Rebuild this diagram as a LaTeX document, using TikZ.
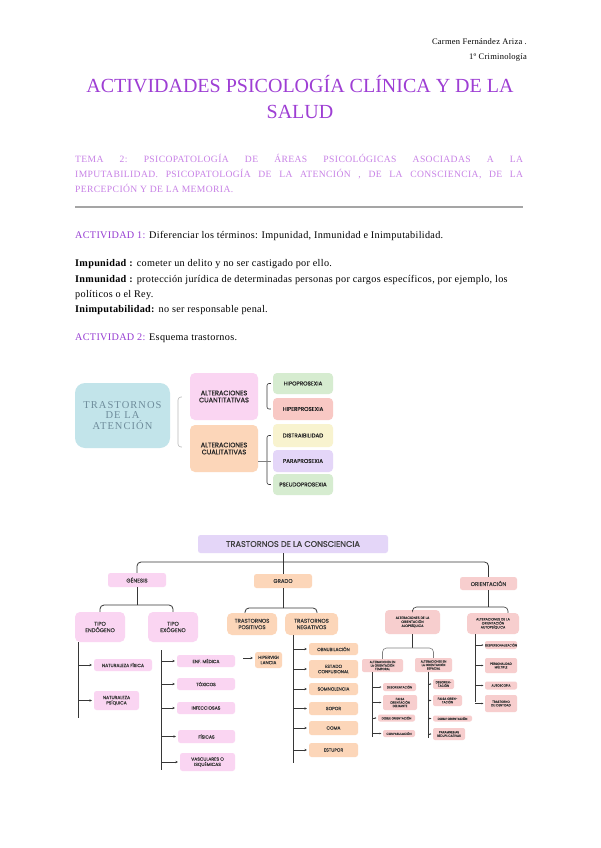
\documentclass[tikz,border=0pt]{standalone}
\usepackage{fontspec}
\setmainfont{Liberation Serif}
\newfontfamily\popf{Poppins}
\newfontfamily\popm[FakeBold=0.7]{Poppins}
\newfontfamily\lspacef[LetterSpace=10]{Liberation Serif}
\newfontfamily\temaf[LetterSpace=4]{Liberation Serif}
\newfontfamily\bodyf[LetterSpace=3]{Liberation Serif}
\usetikzlibrary{arrows.meta}
\definecolor{ttl}{RGB}{158,62,212}
\definecolor{tema}{RGB}{200,130,230}
\definecolor{act}{RGB}{150,60,210}
\definecolor{rulec}{RGB}{165,165,165}
\definecolor{blueb}{RGB}{194,228,234}
\definecolor{bluet}{RGB}{110,140,155}
\definecolor{pinkb}{RGB}{250,213,242}
\definecolor{orab}{RGB}{252,214,185}
\definecolor{greenb}{RGB}{214,236,208}
\definecolor{redb}{RGB}{248,200,196}
\definecolor{yelb}{RGB}{248,243,207}
\definecolor{lavb}{RGB}{228,214,248}
\definecolor{roseb}{RGB}{247,206,206}
\definecolor{lnc}{RGB}{55,55,55}
\definecolor{txg}{RGB}{60,60,60}
\tikzset{
  bx/.style={rounded corners=2.5pt, inner sep=0pt, align=center, text=txg},
  ln/.style={draw=lnc, line width=0.8pt},
  lnt/.style={draw=lnc, line width=0.6pt},
  ar/.style={ln, -{Stealth[length=2.4pt,width=2.4pt]}, shorten >=2pt},
  ars/.style={lnt, -{Stealth[length=1.6pt,width=1.6pt]}, shorten >=1.5pt},
  bodytxt/.style={anchor=base west, inner sep=0pt, font=\bodyf\fontsize{10.2}{12}\selectfont},
}
\newcommand{\bxn}[7]{\node[bx,fill=#2,minimum width=#5pt,minimum height=#6pt] (#1) at (#3,#4) {#7};}
\begin{document}
\begin{tikzpicture}[x=1pt,y=-1pt]
\useasboundingbox[fill=white] (0,0) rectangle (600,848);

% header
\node[anchor=base east, inner sep=0pt, font=\bodyf\fontsize{8.5}{10}\selectfont] (auth) at (527,45) {Carmen Fernández Ariza .};
\node[anchor=base east, inner sep=0pt, font=\bodyf\fontsize{8.5}{10}\selectfont] (curso) at (527,60) {1º Criminología};

% title
\node[anchor=base, inner sep=0pt, text=ttl, font=\fontsize{20}{24}\selectfont] (t1) at (300,93) {ACTIVIDADES PSICOLOGÍA CLÍNICA Y DE LA};
\node[anchor=base, inner sep=0pt, text=ttl, font=\fontsize{20}{24}\selectfont] (t2) at (300,119) {SALUD};

% tema
\node[anchor=north west, text width=448pt, align=justify, inner sep=0pt, text=tema, font=\temaf\fontsize{9.6}{15}\selectfont] (tema) at (75,154)
 {TEMA 2:\ PSICOPATOLOGÍA DE ÁREAS PSICOLÓGICAS ASOCIADAS A LA\linebreak IMPUTABILIDAD. PSICOPATOLOGÍA DE LA ATENCIÓN , DE LA CONSCIENCIA, DE LA\linebreak PERCEPCIÓN Y DE LA MEMORIA.};
\draw[rulec, line width=1.6pt] (75,207) -- (523,207);

% actividad 1
\node[bodytxt] (a1) at (75,238) {\textcolor{act}{ACTIVIDAD 1:} Diferenciar los términos: Impunidad, Inmunidad e Inimputabilidad.};
\node[bodytxt] (d1) at (75,266) {\textbf{Impunidad :} cometer un delito y no ser castigado por ello.};
\node[bodytxt] (d2) at (75,282) {\textbf{Inmunidad :} protección jurídica de determinadas personas por cargos específicos, por ejemplo, los};
\node[bodytxt] (d2b) at (75,297) {políticos o el Rey.};
\node[bodytxt] (d3) at (75,312) {\textbf{Inimputabilidad:} no ser responsable penal.};
\node[bodytxt] (a2) at (75,340) {\textcolor{act}{ACTIVIDAD 2:} Esquema trastornos.};

% ===== atención =====
\node[bx, fill=blueb, rounded corners=10pt, minimum width=95pt, minimum height=65pt, text=bluet, font=\lspacef\fontsize{10.5}{10.8}\selectfont] (att) at (122.5,415.5) {TRASTORNOS\\DE LA\\ATENCIÓN};
\begin{scope}[bx/.append style={font=\popm\fontsize{6.6}{7}\selectfont, rounded corners=5pt, text=black!85}]
\bxn{cuan}{pinkb}{224}{396.5}{68}{47}{ALTERACIONES\\CUANTITATIVAS}
\bxn{cual}{orab}{224}{448.5}{68}{47}{ALTERACIONES\\CUALITATIVAS}
\end{scope}
\begin{scope}[bx/.append style={font=\popm\fontsize{5.6}{6}\selectfont, rounded corners=4pt, text=black!85}]
\bxn{hipo}{greenb}{303}{383.5}{60}{21}{HIPOPROSEXIA}
\bxn{hiper}{redb}{303}{409}{60}{22}{HIPERPROSEXIA}
\bxn{dist}{yelb}{303}{435.5}{60}{23}{DISTRAIBILIDAD}
\bxn{para}{lavb}{303}{461}{60}{22}{PARAPROSEXIA}
\bxn{pseudo}{greenb}{303}{484.5}{60}{21}{PSEUDOPROSEXIA}
\end{scope}
\draw[gray!55, line width=0.6pt, rounded corners=3pt] ([xshift=-8pt]cuan.west |- 0,397) -| (178,422) |- ([xshift=-8pt]cual.west |- 0,447);
\draw[lnt, rounded corners=2pt] ([xshift=-2pt]hipo.west) -| (267,396) |- ([xshift=-2pt]hiper.west);
\draw[lnt, rounded corners=2pt] ([xshift=-2pt]dist.west) -| (267,460) |- ([xshift=-2pt]pseudo.west);
\draw[lnt, gray] (cual.east |- para.west) -- ([xshift=-2pt]para.west);

% ===== consciencia =====
\node[bx, fill=lavb, minimum width=190pt, minimum height=18pt, font=\popm\fontsize{8.2}{9}\selectfont, text=black!75] (cons) at (293,544) {TRASTORNOS DE LA CONSCIENCIA};
\begin{scope}[bx/.append style={font=\popm\fontsize{5.4}{6}\selectfont}]
\bxn{gen}{pinkb}{137}{580}{58}{14}{GÉNESIS}
\bxn{grado}{orab}{283}{581}{58}{14}{GRADO}
\bxn{orient}{roseb}{488.5}{583.5}{57}{13}{ORIENTACIÓN}
\end{scope}
\coordinate (hj) at (283,562);
\draw[ln] (cons.south -| grado.north) -- (grado.north);
\draw[ln, rounded corners=4pt] (gen.north) |- (hj);
\draw[ln, rounded corners=4pt] (orient.north) |- (hj);

\begin{scope}[bx/.append style={font=\popm\fontsize{5.4}{6.4}\selectfont, rounded corners=5pt}]
\bxn{endo}{pinkb}{100}{627}{50}{30}{TIPO\\ENDÓGENO}
\bxn{exo}{pinkb}{173}{627}{50}{30}{TIPO\\EXÓGENO}
\bxn{pos}{orab}{252}{624}{50}{22}{TRASTORNOS\\POSITIVOS}
\bxn{neg}{orab}{311.5}{624}{53}{22}{TRASTORNOS\\NEGATIVOS}
\end{scope}
\draw[ln] (gen.south) -- (137,605) coordinate (gj);
\draw[ln, rounded corners=4pt] (gj) -| (endo.north);
\draw[ln, rounded corners=4pt] (gj) -| (exo.north);
\draw[ln] (grado.south) -- (283,608) coordinate (gdj);
\draw[ln, rounded corners=4pt] (gdj) -| ([xshift=-7pt]pos.north);
\draw[ln, rounded corners=4pt] (gdj) -| ([xshift=5.5pt]neg.north);

\begin{scope}[bx/.append style={font=\popm\fontsize{4.5}{5.3}\selectfont}]
\bxn{fis}{pinkb}{123}{665}{58}{12}{NATURALEZA FÍSICA}
\bxn{psi}{pinkb}{116.5}{700.5}{45}{19}{NATURALEZA\\PSÍQUICA}
\bxn{med}{pinkb}{206}{661}{58}{12}{ENF. MÉDICA}
\bxn{tox}{pinkb}{206}{684}{58}{12}{TÓXICOS}
\bxn{inf}{pinkb}{206}{708}{58}{12}{INFECCIOSAS}
\bxn{fisi}{pinkb}{206.5}{736.5}{57}{13}{FÍSICAS}
\bxn{vinc}{pinkb}{207.5}{762}{55}{18}{VASCULARES O\\ISQUÉMICAS}
\bxn{hv}{orab}{268.5}{660}{27}{16}{HIPERVIGI\\LANCIA}
\bxn{ob}{orab}{333.5}{649}{49}{12}{OBNUBILACIÓN}
\bxn{ec}{orab}{333.5}{669}{49}{18}{ESTADO\\CONFUSIONAL}
\bxn{so}{orab}{333.5}{689}{49}{12}{SOMNOLENCIA}
\bxn{sop}{orab}{333.5}{708.5}{49}{13}{SOPOR}
\bxn{coma}{orab}{333.5}{728}{49}{14}{COMA}
\bxn{est}{orab}{333.5}{750}{49}{14}{ESTUPOR}
\end{scope}
% endógeno
\draw[ln] ([xshift=4pt]endo.south west) -- ++(0,76) coordinate (eend);
\foreach \n in {fis,psi} \draw[ar] (\n.west -| eend) -- (\n.west);
% exógeno
\draw[ln] ([xshift=14pt]exo.south west) ++(0,8) -- ++(0,120) coordinate (xend);
\foreach \n in {med,tox,inf,fisi,vinc} \draw[ar] (\n.west -| xend) -- (\n.west);
% positivos
\coordinate (pv) at (243,658);
\draw[ar] (pv) -- (hv.west |- pv);
% negativos
\draw[ln] ([xshift=9pt]neg.south west) -- ++(0,128) coordinate (nend);
\foreach \n in {ob,ec,so,sop,coma,est} \draw[ar] (\n.west -| nend) -- (\n.west);

% orientación
\begin{scope}[bx/.append style={font=\popm\fontsize{3.4}{4}\selectfont, rounded corners=4pt}]
\bxn{A}{roseb}{412.5}{622}{55}{24}{ALTERACIONES DE LA\\ORIENTACIÓN\\ALOPSÍQUICA}
\bxn{B}{roseb}{493}{623.5}{52}{21}{ALTERACIONES DE LA\\ORIENTACIÓN\\AUTOPSÍQUICA}
\end{scope}
\begin{scope}[bx/.append style={font=\popm\fontsize{3}{3.5}\selectfont, rounded corners=2pt}]
\bxn{A1}{roseb}{382.5}{665.5}{41}{13}{ALTERACIONES EN\\LA ORIENTACIÓN\\TEMPORAL}
\bxn{A2}{roseb}{433.5}{665}{37}{14}{ALTERACIONES EN\\LA ORIENTACIÓN\\ESPACIAL}
\bxn{a11}{roseb}{399.5}{687}{33}{8}{DESORIENTACIÓN}
\bxn{a12}{roseb}{400}{702.5}{34}{15}{FALSA\\ORIENTACIÓN\\DELIRANTE}
\bxn{a13}{roseb}{396.5}{718}{37}{7}{DOBLE ORIENTACIÓN}
\bxn{a14}{roseb}{399}{733.5}{32}{7}{CONFABULACIÓN}
\bxn{a21}{roseb}{443.5}{684}{21}{10}{DESORIEN-\\TACIÓN}
\bxn{a22}{roseb}{447.5}{700.5}{29}{11}{FALSA ORIEN-\\TACIÓN}
\bxn{a23}{roseb}{452.5}{718.5}{39}{6}{DOBLE ORIENTACIÓN}
\bxn{a24}{roseb}{449}{734}{32}{12}{PARAMNESIAS\\REDUPLICATIVAS}
\bxn{b1}{roseb}{501}{645}{32}{8}{DESPERSONALIZACIÓN}
\bxn{b2}{roseb}{501}{665.5}{32}{15}{PERSONALIDAD\\MÚLTIPLE}
\bxn{b3}{roseb}{501}{685.5}{32}{8}{AUTOSCOPIA}
\bxn{b4}{roseb}{501}{703.5}{32}{17}{TRASTORNO\\DE IDENTIDAD}
\end{scope}
\draw[lnt] (orient.south) -- (488.5,607) coordinate (oj);
\draw[lnt, rounded corners=4pt] (oj) -| (A.north);
\draw[lnt, rounded corners=4pt] (oj) -| ([xshift=15pt]B.north);
\draw[lnt] (A.south) -- (412.5,648) coordinate (aj);
\draw[lnt, gray, rounded corners=4pt] (aj) -| (A1.north);
\draw[lnt, gray, rounded corners=4pt] (aj) -| (A2.north);
\draw[lnt] ([xshift=10pt]A1.south west) -- ++(0,65) coordinate (a1end);
\foreach \n in {a11,a12,a13,a14} \draw[ars] (\n.west -| a1end) -- (\n.west);
\draw[lnt] ([xshift=13pt]A2.south west) -- ++(0,66) coordinate (a2end);
\foreach \n in {a21,a22,a23,a24} \draw[ars] (\n.west -| a2end) -- (\n.west);
\draw[lnt] ([xshift=8pt]B.south west) -- ++(0,68) coordinate (bend);
\foreach \n in {b1,b2,b3,b4} \draw[ars] (\n.west -| bend) -- (\n.west);
\end{tikzpicture}
\end{document}
